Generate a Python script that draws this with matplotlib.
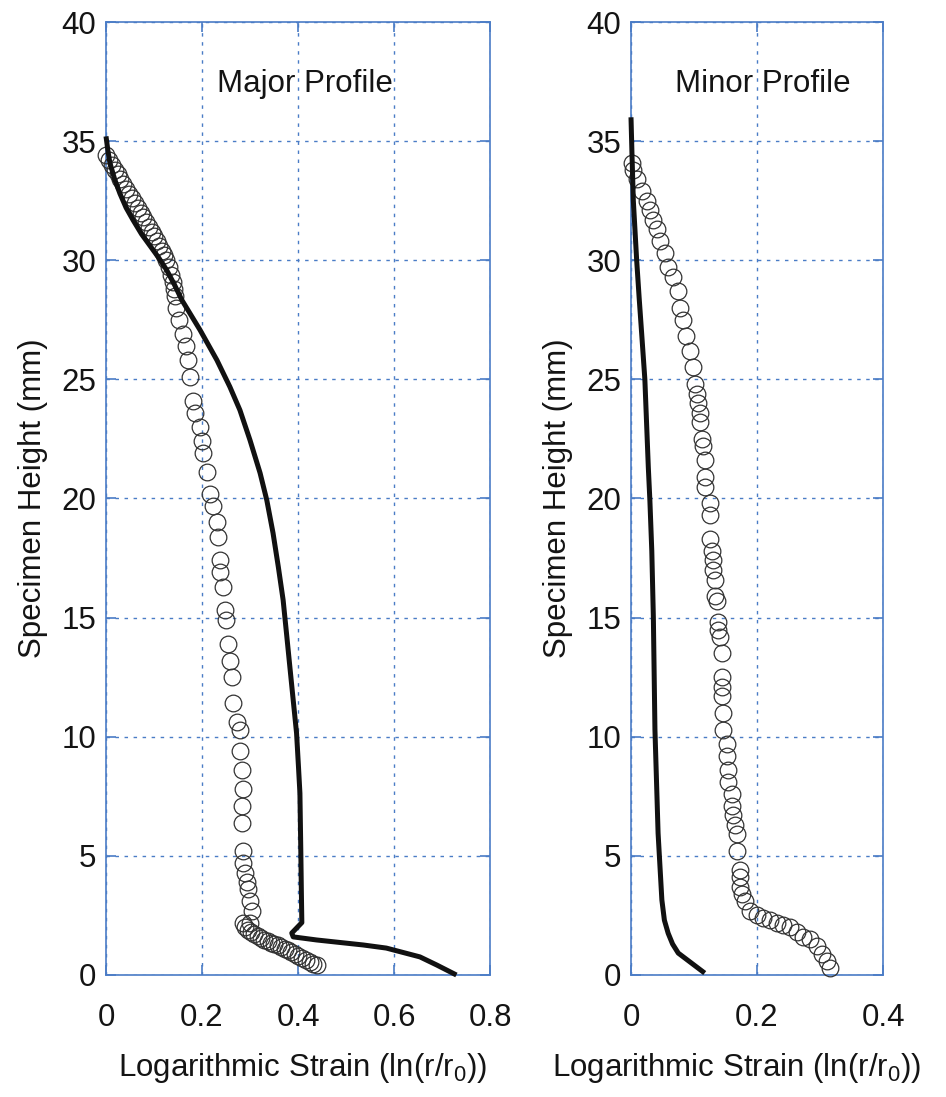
import matplotlib
matplotlib.use("Agg")
import matplotlib.pyplot as plt

plt.rcParams['font.family'] = ['Liberation Sans', 'DejaVu Sans']
plt.rcParams['mathtext.fontset'] = 'custom'
plt.rcParams['mathtext.rm'] = 'Liberation Sans'
plt.rcParams['mathtext.it'] = 'Liberation Sans'

# ---------------- data ----------------
major_curve_x = [0.0, 0.004, 0.008, 0.018, 0.029, 0.042, 0.056, 0.074, 0.092, 0.110,
                 0.126, 0.142, 0.158, 0.196, 0.231, 0.258, 0.279, 0.300, 0.321, 0.335,
                 0.348, 0.359, 0.369, 0.376, 0.383, 0.390, 0.397, 0.401, 0.404, 0.406,
                 0.407, 0.408, 0.387, 0.390, 0.439, 0.536, 0.584, 0.654, 0.689, 0.730]
major_curve_y = [35.2, 34.6, 34.1, 33.4, 32.8, 32.2, 31.7, 31.1, 30.6, 30.1,
                 29.6, 29.0, 28.33, 27.07, 25.81, 24.69, 23.71, 22.45, 21.07, 19.93,
                 18.55, 17.13, 15.74, 14.35, 12.94, 11.54, 10.15, 8.74, 7.63, 5.0,
                 3.5, 2.2, 1.76, 1.6, 1.47, 1.26, 1.13, 0.76, 0.42, 0.0]

major_pts_x = [0.000, 0.006, 0.012, 0.018, 0.024, 0.030, 0.036, 0.042, 0.048, 0.054,
               0.060, 0.066, 0.072, 0.078, 0.084, 0.090, 0.096, 0.101, 0.106, 0.111,
               0.116, 0.121, 0.126, 0.131, 0.136, 0.139, 0.141, 0.143, 0.146, 0.152,
               0.161, 0.166, 0.170, 0.175, 0.181, 0.186, 0.196, 0.200, 0.203, 0.210,
               0.217, 0.223, 0.231, 0.234, 0.238, 0.238, 0.244, 0.248, 0.250, 0.254,
               0.258, 0.262, 0.265, 0.273, 0.279, 0.279, 0.283, 0.286, 0.283, 0.283,
               0.286, 0.286, 0.289, 0.293, 0.296, 0.300, 0.304, 0.300, 0.286, 0.290,
               0.296, 0.302, 0.309, 0.316, 0.323, 0.330, 0.337, 0.344, 0.351, 0.358,
               0.365, 0.372, 0.379, 0.386, 0.393, 0.400, 0.408, 0.416, 0.424, 0.432,
               0.439]
major_pts_y = [34.4, 34.2, 34.0, 33.8, 33.6, 33.4, 33.2, 33.0, 32.8, 32.6,
               32.4, 32.2, 32.0, 31.8, 31.6, 31.4, 31.2, 31.0, 30.8, 30.6,
               30.4, 30.2, 30.0, 29.7, 29.4, 29.1, 28.8, 28.5, 28.0, 27.5,
               26.9, 26.4, 25.8, 25.1, 24.1, 23.6, 23.0, 22.4, 21.9, 21.1,
               20.2, 19.7, 19.0, 18.4, 17.4, 16.9, 16.3, 15.3, 14.9, 13.9,
               13.2, 12.5, 11.4, 10.6, 10.3, 9.4, 8.6, 7.8, 7.1, 6.4,
               5.2, 4.7, 4.3, 3.9, 3.6, 3.1, 2.7, 2.2, 2.2, 2.0,
               1.9, 1.8, 1.7, 1.62, 1.55, 1.48, 1.42, 1.36, 1.30, 1.24,
               1.17, 1.10, 1.04, 0.98, 0.90, 0.80, 0.72, 0.64, 0.56, 0.48,
               0.42]

minor_curve_x = [0.0, 0.0015, 0.0037, 0.009, 0.013, 0.017, 0.022, 0.0275, 0.030, 0.033,
                 0.0355, 0.038, 0.043, 0.049, 0.053, 0.059, 0.066, 0.075, 0.096, 0.117]
minor_curve_y = [36.0, 34.5, 32.5, 30.0, 28.4, 26.9, 25.0, 21.3, 19.9, 17.8,
                 15.0, 10.3, 5.95, 3.15, 2.3, 1.75, 1.3, 0.92, 0.5, 0.08]

minor_pts_x = [0.001, 0.003, 0.009, 0.017, 0.025, 0.030, 0.035, 0.041, 0.046, 0.054,
               0.059, 0.067, 0.075, 0.078, 0.083, 0.088, 0.094, 0.099, 0.102, 0.104,
               0.107, 0.110, 0.110, 0.112, 0.114, 0.117, 0.117, 0.117, 0.125, 0.125,
               0.125, 0.128, 0.130, 0.130, 0.133, 0.133, 0.136, 0.138, 0.138, 0.141,
               0.144, 0.144, 0.144, 0.144, 0.146, 0.146, 0.152, 0.152, 0.154, 0.154,
               0.160, 0.160, 0.162, 0.165, 0.168, 0.168, 0.173, 0.173, 0.173, 0.176,
               0.181, 0.189, 0.200, 0.210, 0.220, 0.231, 0.241, 0.252, 0.263, 0.273,
               0.284, 0.295, 0.303, 0.311, 0.316]
minor_pts_y = [34.1, 33.8, 33.4, 32.9, 32.5, 32.1, 31.7, 31.3, 30.8, 30.3,
               29.7, 29.3, 28.7, 28.0, 27.5, 26.8, 26.2, 25.5, 24.8, 24.4,
               24.0, 23.6, 23.2, 22.5, 22.2, 21.6, 20.9, 20.5, 19.8, 19.3,
               18.3, 17.8, 17.4, 17.0, 16.6, 15.9, 15.7, 14.8, 14.5, 14.2,
               13.5, 12.5, 12.1, 11.7, 11.0, 10.3, 9.7, 9.2, 8.6, 8.1,
               7.6, 7.1, 6.7, 6.3, 5.9, 5.2, 4.4, 4.1, 3.7, 3.4,
               3.1, 2.7, 2.5, 2.4, 2.3, 2.2, 2.1, 2.0, 1.8, 1.6,
               1.5, 1.2, 0.9, 0.6, 0.3]

major_xticks = [0, 0.2, 0.4, 0.6, 0.8]
major_xticklabels = ['0', '0.2', '0.4', '0.6', '0.8']
minor_xticks = [0, 0.2, 0.4]
minor_xticklabels = ['0', '0.2', '0.4']
yticks = [0, 5, 10, 15, 20, 25, 30, 35, 40]
yticklabels = ['0', '5', '10', '15', '20', '25', '30', '35', '40']

# ---------------- figure ----------------
W, H = 946, 1097
fig = plt.figure(figsize=(W / 100, H / 100), dpi=100)

blue = '#4a7cc6'
fs = 22.5
tc = '#141414'


def px_rect(x0, x1, ytop, ybot):
    return [x0 / W, 1 - ybot / H, (x1 - x0) / W, (ybot - ytop) / H]


def style(ax, xlim, xticks, xticklabels):
    ax.set_xlim(*xlim)
    ax.set_ylim(0, 40)
    ax.set_xticks(xticks)
    ax.set_xticklabels(xticklabels)
    ax.set_yticks(yticks)
    ax.set_yticklabels(yticklabels)
    for s in ax.spines.values():
        s.set_color(blue)
        s.set_linewidth(1.2)
    ax.tick_params(axis='both', direction='in', length=7, width=1.2, color=blue,
                   labelsize=fs, labelcolor=tc, top=True, right=True)
    ax.tick_params(axis='x', pad=20)
    ax.tick_params(axis='y', pad=7)
    ax.grid(True, color=blue, linestyle=(0, (2.5, 4)), linewidth=1.0)
    ax.set_axisbelow(True)


ax1 = fig.add_axes(px_rect(106, 490, 22, 975))
ax1.plot(major_pts_x, major_pts_y, linestyle='none', marker='o', markersize=12,
         markerfacecolor='none', markeredgecolor='#333333', markeredgewidth=0.9,
         clip_on=False, zorder=3)
ax1.plot(major_curve_x, major_curve_y, color='#111111', linewidth=3.6,
         solid_capstyle='butt', solid_joinstyle='round', zorder=4, clip_on=False)
style(ax1, (0, 0.8), major_xticks, major_xticklabels)
ax1.text(0.415, 37.4, 'Major Profile', ha='center', va='center', fontsize=fs,
         color=tc)
ax1.set_ylabel('Specimen Height (mm)', fontsize=fs, color=tc, labelpad=10)

ax2 = fig.add_axes(px_rect(631, 883, 22, 975))
ax2.plot(minor_pts_x, minor_pts_y, linestyle='none', marker='o', markersize=12,
         markerfacecolor='none', markeredgecolor='#333333', markeredgewidth=0.9,
         clip_on=False, zorder=3)
ax2.plot(minor_curve_x, minor_curve_y, color='#111111', linewidth=3.6,
         solid_capstyle='butt', solid_joinstyle='round', zorder=4, clip_on=False)
style(ax2, (0, 0.4), minor_xticks, minor_xticklabels)
ax2.text(0.21, 37.4, 'Minor Profile', ha='center', va='center', fontsize=fs,
         color=tc)
ax2.set_ylabel('Specimen Height (mm)', fontsize=fs, color=tc, labelpad=10)

xlab = 'Logarithmic Strain (ln(r/r$_0$))'
fig.text(303 / W, 1 - 1068 / H, xlab, ha='center', va='center', fontsize=fs,
         color=tc)
fig.text(737 / W, 1 - 1068 / H, xlab, ha='center', va='center', fontsize=fs,
         color=tc)

fig.savefig('out.png', dpi=100)
